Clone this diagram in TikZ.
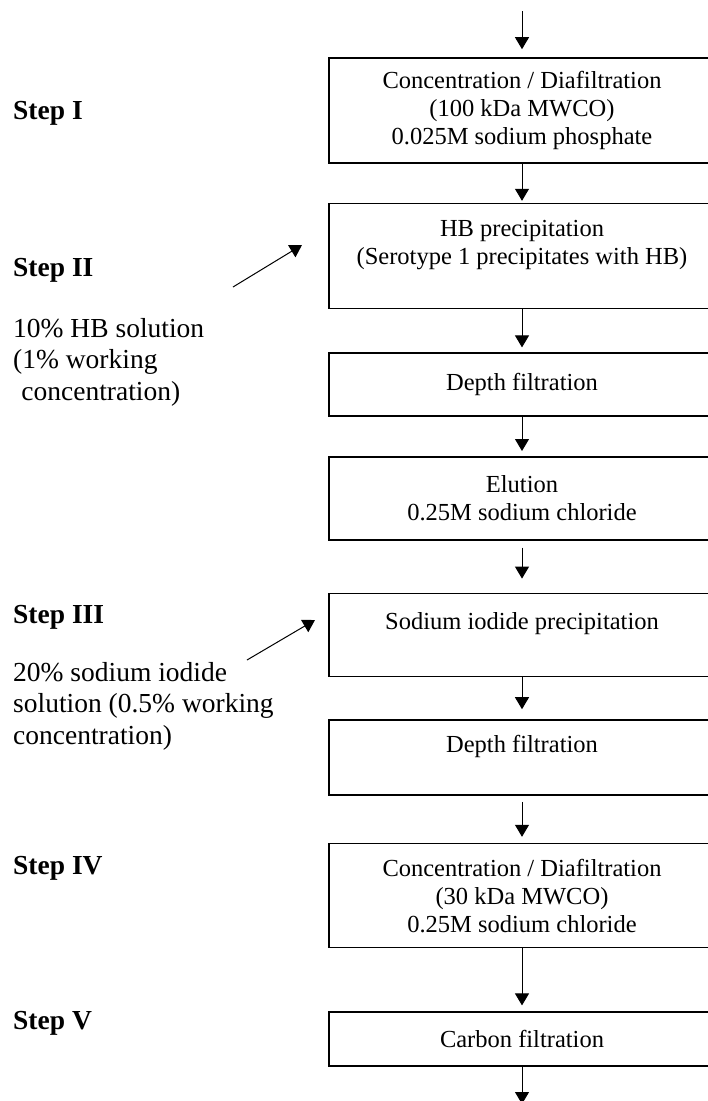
\documentclass[tikz,border=0pt]{standalone}
\usepackage{fontspec}
\setmainfont{Liberation Serif}
\usetikzlibrary{arrows.meta,positioning,calc}

\newcommand{\boxfont}{\fontsize{24.5}{28}\selectfont}
\newcommand{\sidefont}{\fontsize{27.5}{31.5}\selectfont}

\begin{document}
\begin{tikzpicture}[
    x=1pt, y=-1pt,
    stage/.style={rectangle, draw, line width=1.6pt, minimum width=386pt, inner sep=0pt, align=center, font=\boxfont},
    flow/.style={-{Triangle[width=14pt,length=12pt]}, line width=1pt, shorten >=5pt},
    steplabel/.style={anchor=west, inner sep=0pt, font=\sidefont\bfseries},
    note/.style={anchor=west, inner sep=0pt, align=left, font=\sidefont}
]
    \useasboundingbox (0,0) rectangle (708,1101);

    % Process column
    \node[stage, minimum height=105pt] (conc1) at (522,110.5) {Concentration / Diafiltration\\(100 kDa MWCO)\\0.025M sodium phosphate};
    \node[stage, minimum height=105pt, below=39pt of conc1] (hbprec) {HB precipitation\\(Serotype 1 precipitates with HB)\\~};
    \node[stage, minimum height=63pt, below=43pt of hbprec] (depth1) {Depth filtration};
    \node[stage, minimum height=83pt, below=39pt of depth1] (elution) {Elution\\0.25M sodium chloride};
    \node[stage, minimum height=83pt, below=52pt of elution] (naiprec) {Sodium iodide precipitation\\~};
    \node[stage, minimum height=75pt, below=42pt of naiprec] (depth2) {Depth filtration\\~};
    \node[stage, minimum height=104pt, below=47pt of depth2] (conc2) {Concentration / Diafiltration\\(30 kDa MWCO)\\0.25M sodium chloride};
    \node[stage, minimum height=54pt, below=63pt of conc2] (carbon) {Carbon filtration};

    % Step labels
    \node[steplabel] (stepI) at (13,113) {Step I};
    \node[steplabel] (stepII) at (13,270) {Step II};
    \node[note] (hbsol) at (13,362) {10\% HB solution\\(1\% working\\\hspace*{0.3em}concentration)};
    \node[steplabel] (stepIII) at (13,617) {Step III};
    \node[note] (naisol) at (13,706) {20\% sodium iodide\\solution (0.5\% working\\concentration)};
    \node[steplabel] (stepIV) at (13,868) {Step IV};
    \node[steplabel] (stepV) at (13,1023) {Step V};

    % Free ends
    \coordinate (feed) at (522,11);
    \coordinate (outlet) at (522,1104);
    \coordinate (hbfrom) at (233,287);
    \coordinate (hbto) at (302,245);
    \coordinate (naifrom) at (247,660);
    \coordinate (naito) at (315,620);

    % Flow
    \draw[flow, shorten >=8pt] (feed) -- (conc1);
    \draw[flow, shorten >=2pt] (conc1) -- (hbprec);
    \draw[flow] (hbprec) -- (depth1);
    \draw[flow] (depth1) -- (elution);
    \draw[flow, shorten <=7pt, shorten >=14pt] (elution) -- (naiprec);
    \draw[flow, shorten >=10pt] (naiprec) -- (depth2);
    \draw[flow, shorten <=6pt, shorten >=6pt] (depth2) -- (conc2);
    \draw[flow, shorten >=6pt] (conc2) -- (carbon);
    \draw[flow, shorten >=0pt] (carbon) -- (outlet);

    % Additions
    \draw[flow, shorten >=0pt] (hbfrom) -- (hbto);
    \draw[flow, shorten >=0pt] (naifrom) -- (naito);
\end{tikzpicture}
\end{document}
